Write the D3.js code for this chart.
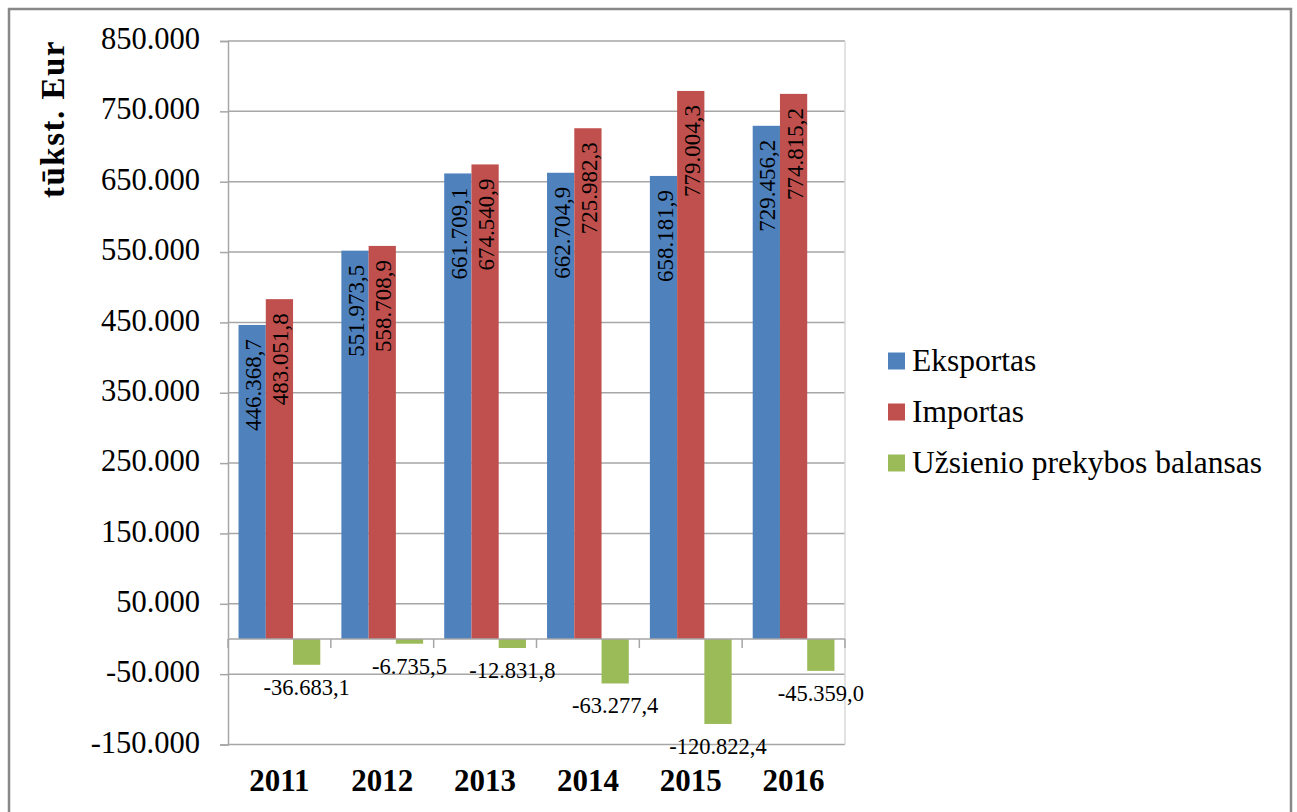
<!DOCTYPE html>
<html>
<head>
<meta charset="utf-8">
<script src="https://cdn.jsdelivr.net/npm/d3@7"></script>
<style>
  html, body { margin: 0; padding: 0; background: #fff; }
  svg { display: block; }
  text { font-family: "Liberation Serif", "Times New Roman", serif; fill: #000; }
</style>
</head>
<body>
<svg id="chart" width="1297" height="812"></svg>
<script>
const years = ["2011", "2012", "2013", "2014", "2015", "2016"];
const seriesNames = ["Eksportas", "Importas", "Užsienio prekybos balansas"];
const eksportas = [446368.7, 551973.5, 661709.1, 662704.9, 658181.9, 729456.2];
const importas = [483051.8, 558708.9, 674540.9, 725982.3, 779004.3, 774815.2];
const balansas = [-36683.1, -6735.5, -12831.8, -63277.4, -120822.4, -45359.0];
const yTicks = [-150000, -50000, 50000, 150000, 250000, 350000, 450000, 550000, 650000, 750000, 850000];
const colors = ["#4F81BD", "#C0504D", "#9BBB59"];
const yTitle = "tūkst. Eur";

const series = [eksportas, importas, balansas];

const svg = d3.select("#chart");

// outer frame
svg.append("rect").attr("x", 9).attr("y", 9).attr("width", 1282).attr("height", 820)
  .attr("fill", "none").attr("stroke", "#888").attr("stroke-width", 2.5);

const plot = { left: 228, right: 845, top: 41, bottom: 744.5 };

const locale = d3.formatLocale({ decimal: ",", thousands: ".", grouping: [3], currency: ["", ""], minus: "-" });
const fmtTick = locale.format(",.0f");
const fmtVal = locale.format(",.1f");

const x0 = d3.scaleBand().domain(years).range([plot.left, plot.right])
  .paddingInner(0.205).paddingOuter(0.1025);
const x1 = d3.scaleBand().domain(d3.range(3)).range([0, x0.bandwidth()]);
const y = d3.scaleLinear().domain([yTicks[0], yTicks[yTicks.length - 1]]).range([plot.bottom, plot.top]);

// gridlines
svg.append("g").selectAll("line").data(yTicks).join("line")
  .attr("x1", plot.left).attr("x2", plot.right)
  .attr("y1", d => y(d)).attr("y2", d => y(d))
  .attr("stroke", "#a6a6a6").attr("stroke-width", 1.5);

// right plot border (light)
svg.append("line").attr("x1", plot.right).attr("x2", plot.right)
  .attr("y1", plot.top).attr("y2", plot.bottom)
  .attr("stroke", "#d9d9d9").attr("stroke-width", 1.5);

// y axis
const yAxis = d3.axisLeft(y).tickValues(yTicks).tickFormat(fmtTick).tickSize(8).tickPadding(20);
const gy = svg.append("g").attr("transform", `translate(${plot.left},0)`).call(yAxis);
gy.select(".domain").attr("stroke", "#a6a6a6").attr("stroke-width", 1.5);
gy.selectAll(".tick line").attr("stroke", "#a6a6a6").attr("stroke-width", 1.5);
gy.selectAll(".tick text").attr("font-size", 30.5).attr("font-family", "Liberation Serif")
  .attr("fill", "#000").attr("dy", "0.25em");

// bars
const groups = svg.append("g").selectAll("g").data(years).join("g")
  .attr("transform", d => `translate(${x0(d)},0)`);
groups.selectAll("rect").data((d, i) => series.map((s, k) => ({ k, v: s[i] }))).join("rect")
  .attr("x", d => x1(d.k)).attr("width", x1.bandwidth())
  .attr("y", d => y(Math.max(0, d.v)))
  .attr("height", d => Math.abs(y(d.v) - y(0)))
  .attr("fill", d => colors[d.k]);

// x axis on zero line
const xAxisG = svg.append("g").attr("transform", `translate(0,${y(0)})`);
xAxisG.append("line").attr("x1", plot.left).attr("x2", plot.right).attr("y1", 0).attr("y2", 0)
  .attr("stroke", "#a6a6a6").attr("stroke-width", 1.5);
const boundaries = years.map(d => x0(d) - x0.step() * x0.paddingInner() / 2).concat([plot.right]);
boundaries[0] = plot.left;
xAxisG.selectAll("line.tk").data(boundaries).join("line").attr("class", "tk")
  .attr("x1", d => d).attr("x2", d => d).attr("y1", 0).attr("y2", 9)
  .attr("stroke", "#a6a6a6").attr("stroke-width", 1.5);

// year labels
svg.append("g").selectAll("text").data(years).join("text")
  .attr("x", d => x0(d) + x0.bandwidth() / 2)
  .attr("y", 791)
  .attr("text-anchor", "middle").attr("font-size", 31).attr("font-weight", "bold")
  .text(d => d);

// rotated labels for exports/imports
[0, 1].forEach(k => {
  svg.append("g").selectAll("text").data(years).join("text")
    .attr("transform", (d, i) => {
      const cx = x0(d) + x1(k) + x1.bandwidth() / 2 + 1;
      const top = y(series[k][i]);
      return `translate(${cx},${top + 14}) rotate(-90)`;
    })
    .attr("text-anchor", "end").attr("dy", "0.35em").attr("font-size", 23)
    .text((d, i) => fmtVal(series[k][i]));
});

// balance labels
svg.append("g").selectAll("text").data(years).join("text")
  .attr("x", d => x0(d) + x1(2) + x1.bandwidth() / 2)
  .attr("y", (d, i) => y(balansas[i]) + 30)
  .attr("text-anchor", "middle").attr("font-size", 22.5)
  .text((d, i) => fmtVal(balansas[i]));

// y title
svg.append("text").attr("transform", `translate(52,119) rotate(-90)`)
  .attr("text-anchor", "middle").attr("dy", "0.35em")
  .attr("font-size", 33).attr("font-weight", "bold").attr("letter-spacing", 1.5)
  .text(yTitle);

// legend
const leg = svg.append("g").selectAll("g").data(seriesNames).join("g")
  .attr("transform", (d, i) => `translate(888,${361 + i * 51})`);
leg.append("rect").attr("x", 0).attr("y", -8.5).attr("width", 17).attr("height", 17)
  .attr("fill", (d, i) => colors[i]);
leg.append("text").attr("x", 24).attr("y", 0).attr("dy", "0.33em")
  .attr("font-size", 31.5).text(d => d);
</script>
</body>
</html>
